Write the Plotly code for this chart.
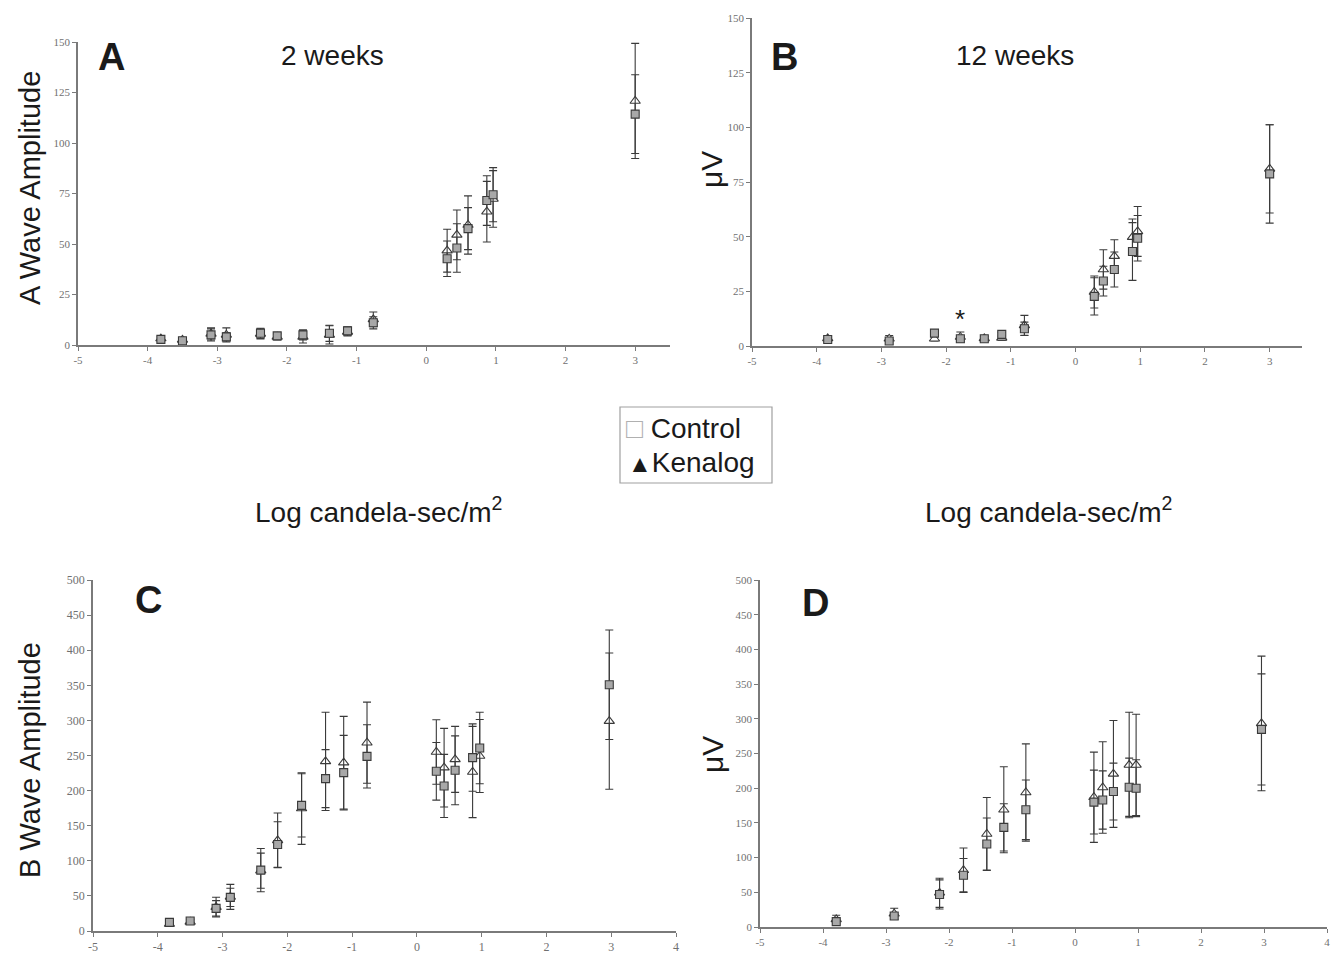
import plotly.graph_objects as go

# ---------------- data ----------------
# Panel A: A-wave, 2 weeks
a_x = [-3.81, -3.50, -3.09, -2.87, -2.38, -2.14, -1.77, -1.39, -1.13, -0.76, 0.30, 0.44, 0.60, 0.87, 0.96, 3.0]
a_ctrl = [2.8, 2.1, 5.0, 4.0, 5.8, 4.5, 5.0, 5.8, 7.0, 11.0, 42.7, 48.0, 57.6, 71.5, 74.4, 114.3]
a_ctrl_err = [1.0, 1.0, 3.0, 2.0, 2.5, 1.5, 2.5, 4.0, 2.0, 3.0, 8.8, 12.0, 10.4, 12.3, 13.4, 19.5]
a_ken = [3.2, 2.5, 5.5, 5.0, 5.5, 4.0, 4.0, 5.0, 6.5, 12.7, 46.7, 54.5, 59.4, 66.0, 72.3, 120.8]
a_ken_err = [1.0, 1.0, 3.0, 3.5, 2.5, 1.5, 3.0, 4.5, 2.0, 3.6, 10.6, 12.3, 14.4, 15.0, 14.0, 28.5]

# Panel B: A-wave, 12 weeks
b_x = [-3.83, -2.88, -2.18, -1.78, -1.41, -1.14, -0.79, 0.29, 0.43, 0.60, 0.88, 0.96, 3.0]
b_ctrl = [3.0, 2.3, 5.9, 3.3, 3.3, 5.3, 7.9, 22.7, 29.7, 35.0, 43.2, 49.3, 78.7]
b_ctrl_err = [1.0, 1.5, 1.0, 1.0, 1.0, 1.0, 3.0, 8.5, 6.8, 8.0, 13.2, 10.4, 22.5]
b_ken = [3.5, 3.3, 3.3, 4.1, 3.5, 3.7, 9.4, 24.7, 35.0, 41.1, 49.8, 52.4, 81.0]
b_ken_err = [1.0, 1.5, 1.0, 2.3, 1.0, 1.2, 4.6, 7.3, 9.0, 7.5, 8.3, 11.4, 20.2]

# Panel C: B-wave, 2 weeks
c_x = [-3.82, -3.50, -3.10, -2.88, -2.41, -2.15, -1.78, -1.41, -1.13, -0.77, 0.30, 0.42, 0.59, 0.86, 0.97, 2.97]
c_ctrl = [12.3, 14.2, 32.2, 47.9, 86.7, 123.2, 179.0, 217.0, 225.6, 248.8, 227.5, 206.6, 228.9, 247.0, 260.7, 350.7]
c_ctrl_err = [3, 3, 11, 13, 30.8, 32.5, 45, 41.3, 53, 45, 41, 45, 49, 48, 51, 78]
c_ken = [10.0, 13.0, 34.0, 48.6, 86.0, 129.0, 174.4, 241.7, 239.8, 268.2, 255.0, 232.7, 244.5, 226.5, 249.3, 299.0]
c_ken_err = [3, 3, 14, 17.8, 25, 39, 51, 70, 66, 57.8, 46, 56, 47, 65, 52, 97]

# Panel D: B-wave, 12 weeks
d_x = [-3.79, -2.87, -2.15, -1.77, -1.40, -1.13, -0.78, 0.30, 0.44, 0.61, 0.86, 0.97, 2.96]
d_ctrl = [7.7, 15.8, 46.9, 74.6, 119.6, 143.5, 168.9, 180.0, 183.0, 195.2, 201.4, 200.0, 284.7]
d_ctrl_err = [5, 5, 21, 24, 37.4, 34, 43, 46, 42, 41, 42, 41, 80]
d_ken = [11.0, 19.1, 49.3, 81.8, 134.0, 168.9, 193.8, 187.0, 201.0, 220.6, 233.5, 233.5, 293.3]
d_ken_err = [6, 8, 21, 32, 52.6, 62, 70, 65, 66, 77, 76, 73, 97]

x_ticks_top = [-5, -4, -3, -2, -1, 0, 1, 2, 3]
x_ticks_bottom = [-5, -4, -3, -2, -1, 0, 1, 2, 3, 4]
y_ticks_top = [0, 25, 50, 75, 100, 125, 150]
y_ticks_bottom = [0, 50, 100, 150, 200, 250, 300, 350, 400, 450, 500]

PAGE_W, PAGE_H = 1339, 958
BODY = 8  # default page margin around the plot div
W, H = PAGE_W - BODY, PAGE_H - BODY
SANS = "Liberation Sans, Arial, sans-serif"
SERIF = "Liberation Serif, Times New Roman, serif"
MARK = "#3a3a3a"

fig = go.Figure()

panels = [
    ("x", "y", a_x, a_ctrl, a_ctrl_err, a_ken, a_ken_err),
    ("x2", "y2", b_x, b_ctrl, b_ctrl_err, b_ken, b_ken_err),
    ("x3", "y3", c_x, c_ctrl, c_ctrl_err, c_ken, c_ken_err),
    ("x4", "y4", d_x, d_ctrl, d_ctrl_err, d_ken, d_ken_err),
]

for xa, ya, xs, ctrl, ctrl_err, ken, ken_err in panels:
    fig.add_trace(go.Scatter(
        x=xs, y=ken, mode="markers", xaxis=xa, yaxis=ya, showlegend=False, name="Kenalog",
        marker=dict(symbol="triangle-up", size=9, color="white", line=dict(color=MARK, width=1.1)),
        error_y=dict(type="data", array=ken_err, visible=True, color=MARK, thickness=1.1, width=4),
    ))
    fig.add_trace(go.Scatter(
        x=xs, y=ctrl, mode="markers", xaxis=xa, yaxis=ya, showlegend=False, name="Control",
        marker=dict(symbol="square", size=8, color="#a8a8a8", line=dict(color=MARK, width=1.1)),
        error_y=dict(type="data", array=ctrl_err, visible=True, color=MARK, thickness=1.1, width=4),
    ))


def px_x(p):
    return (p - BODY) / W


def px_y(p):
    return 1 - (p - BODY) / H


def axis_common(tfsize):
    return dict(showline=True, linecolor="#7a7a7a", linewidth=1.5, ticks="outside", ticklen=4,
                tickcolor="#7a7a7a", tickwidth=1.2, showgrid=False, zeroline=False, automargin=False,
                tickfont=dict(family=SERIF, size=tfsize, color="#707070"))


layout_axes = {}
geo = {
    "": dict(x0=78, x1=670, y0=345, y1=42, xr=[-5, 3.5], yr=[0, 150], xt=x_ticks_top, yt=y_ticks_top, fs=11),
    "2": dict(x0=752, x1=1302, y0=346, y1=18, xr=[-5, 3.5], yr=[0, 150], xt=x_ticks_top, yt=y_ticks_top, fs=11),
    "3": dict(x0=93, x1=676, y0=931, y1=580, xr=[-5, 4], yr=[0, 500], xt=x_ticks_bottom, yt=y_ticks_bottom, fs=12),
    "4": dict(x0=760, x1=1327, y0=927, y1=580, xr=[-5, 4], yr=[0, 500], xt=x_ticks_bottom, yt=y_ticks_bottom, fs=11),
}
for k, g in geo.items():
    xa = axis_common(g["fs"])
    xa.update(domain=[px_x(g["x0"]), px_x(g["x1"])], range=g["xr"], anchor="y" + k,
              tickvals=g["xt"], ticktext=[str(v) for v in g["xt"]])
    ya = axis_common(g["fs"])
    ya.update(domain=[px_y(g["y0"]), px_y(g["y1"])], range=g["yr"], anchor="x" + k,
              tickvals=g["yt"], ticktext=[str(v) for v in g["yt"]])
    layout_axes["xaxis" + k] = xa
    layout_axes["yaxis" + k] = ya

fig.update_layout(**layout_axes)

annotations = []


def txt(x, y, text, size, bold=False, angle=0, xanchor="center", color="#1a1a1a"):
    annotations.append(dict(
        x=px_x(x), y=px_y(y), xref="paper", yref="paper", text=("<b>%s</b>" % text) if bold else text,
        showarrow=False, textangle=angle, xanchor=xanchor, yanchor="middle",
        font=dict(family=SANS, size=size, color=color),
    ))


txt(111, 57, "A", 38, bold=True)
txt(784, 57, "B", 38, bold=True)
txt(148, 600, "C", 38, bold=True)
txt(815, 603, "D", 38, bold=True)
txt(332, 55, "2 weeks", 28)
txt(1015, 55, "12 weeks", 28)
txt(30, 188, "A Wave Amplitude", 29, angle=-90)
txt(30, 760, "B Wave Amplitude", 29, angle=-90)
txt(712, 170, "μV", 30, angle=-90)
txt(712, 755, "μV", 30, angle=-90)
txt(378, 510, "Log candela-sec/m<sup>2</sup>", 28)
txt(1048, 510, "Log candela-sec/m<sup>2</sup>", 28)

# legend (drawn as a boxed key)
txt(624, 428, "<span style='color:#b0b0b0'>□</span> Control", 28, xanchor="left")
txt(626, 462, "<span style='font-size:24px'>▲</span>Kenalog", 28, xanchor="left")

# significance asterisk in panel B (data coordinates)
annotations.append(dict(x=-1.78, y=12.5, xref="x2", yref="y2", text="*", showarrow=False,
                        font=dict(family=SANS, size=26, color="#1a1a1a")))

shapes = [dict(type="rect", xref="paper", yref="paper", x0=px_x(620), x1=px_x(772),
               y0=px_y(483), y1=px_y(407), line=dict(color="#a0a0a0", width=1.2), fillcolor="rgba(0,0,0,0)")]

fig.update_layout(
    template="none",
    width=W, height=H, margin=dict(l=0, r=0, t=0, b=0, pad=0, autoexpand=False),
    paper_bgcolor="white", plot_bgcolor="white",
    annotations=annotations, shapes=shapes,
    showlegend=False,
)

fig.write_html("out.html")
